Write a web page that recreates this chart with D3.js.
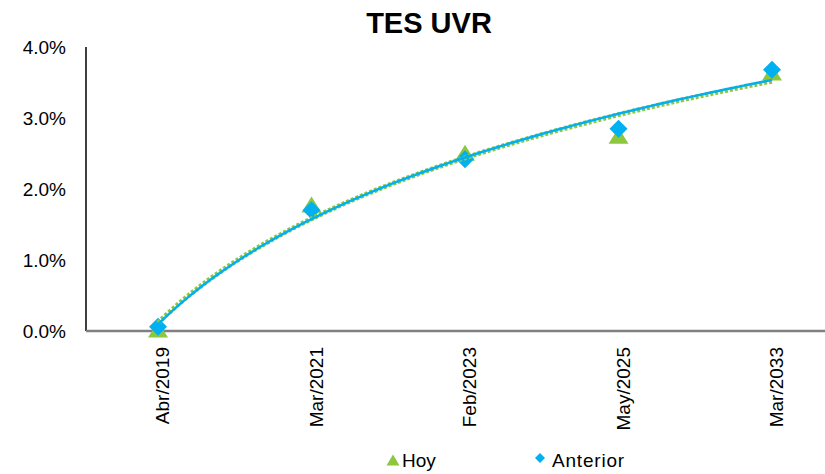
<!DOCTYPE html>
<html>
<head>
<meta charset="utf-8">
<script src="https://cdn.jsdelivr.net/npm/d3@7"></script>
<style>
  body { margin: 0; background: #fff; }
  text { font-family: "Liberation Sans", Arial, sans-serif; fill: #000; }
</style>
</head>
<body>
<script>
// data
var categories = ["Abr/2019", "Mar/2021", "Feb/2023", "May/2025", "Mar/2033"];
var hoy = [0.02, 1.78, 2.51, 2.75, 3.64];
var anterior = [0.06, 1.70, 2.42, 2.85, 3.68];
var yTicks = [0, 1, 2, 3, 4];

var width = 825, height = 474;
var green = "#8DC63F", blue = "#00B0F0";

var svg = d3.select("body").append("svg")
    .attr("width", width)
    .attr("height", height);

var x = d3.scalePoint().domain(categories).range([158, 772]);
var y = d3.scaleLinear().domain([0, 4]).range([331, 47]);

// bbox-centred marker shapes like the spreadsheet ones
function triangle(w, h) {
  return "M0," + (-h / 2) + "L" + (w / 2) + "," + (h / 2) + "L" + (-w / 2) + "," + (h / 2) + "Z";
}
function diamond(r) {
  return "M0," + (-r) + "L" + r + ",0L0," + r + "L" + (-r) + ",0Z";
}

// title
svg.append("text")
    .attr("x", 429).attr("y", 33)
    .attr("text-anchor", "middle")
    .style("font-size", "29px").style("font-weight", "bold")
    .text("TES UVR");

// y axis
svg.append("line")
    .attr("x1", 86).attr("x2", 86)
    .attr("y1", y(4)).attr("y2", y(0))
    .attr("stroke", "#000").attr("stroke-width", 1.5);

svg.selectAll(".ylab").data(yTicks).enter().append("text")
    .attr("class", "ylab")
    .attr("x", 66).attr("y", function(d) { return y(d) + 7; })
    .attr("text-anchor", "end")
    .style("font-size", "19px")
    .text(function(d) { return d.toFixed(1) + "%"; });

// x axis
svg.append("line")
    .attr("x1", 86).attr("x2", 825)
    .attr("y1", y(0)).attr("y2", y(0))
    .attr("stroke", "#808080").attr("stroke-width", 2.5);

svg.selectAll(".xlab").data(categories).enter().append("text")
    .attr("class", "xlab")
    .attr("transform", function(d) { return "translate(" + (x(d) + 11) + ",347) rotate(-90)"; })
    .attr("text-anchor", "end")
    .style("font-size", "19px")
    .text(function(d) { return d; });

// logarithmic trend line (least squares on ln of category index)
function logFit(vals) {
  var lx = vals.map(function(v, i) { return Math.log(i + 1); });
  var mx = d3.mean(lx), my = d3.mean(vals);
  var sxy = d3.sum(vals, function(v, i) { return (lx[i] - mx) * (v - my); });
  var sxx = d3.sum(lx, function(l) { return (l - mx) * (l - mx); });
  var b = sxy / sxx, a = my - b * mx;
  return function(t) { return a + b * Math.log(t); };
}

function trendPoints(vals) {
  var f = logFit(vals);
  var step = x.step();
  return d3.range(1, 5.001, 0.05).map(function(t) {
    return [x(categories[0]) + (t - 1) * step, y(f(t))];
  });
}

var line = d3.line();

// markers
svg.selectAll(".hoy").data(hoy).enter().append("path")
    .attr("class", "hoy")
    .attr("d", triangle(20, 16))
    .attr("fill", green)
    .attr("transform", function(d, i) { return "translate(" + x(categories[i]) + "," + y(d) + ")"; });

svg.selectAll(".ant").data(anterior).enter().append("path")
    .attr("class", "ant")
    .attr("d", diamond(9))
    .attr("fill", blue)
    .attr("transform", function(d, i) { return "translate(" + x(categories[i]) + "," + y(d) + ")"; });

// trend lines on top
svg.append("path")
    .attr("d", line(trendPoints(hoy)))
    .attr("fill", "none")
    .attr("stroke", green)
    .attr("stroke-width", 5)
    .attr("stroke-dasharray", "3 2");

svg.append("path")
    .attr("d", line(trendPoints(anterior)))
    .attr("fill", "none")
    .attr("stroke", blue)
    .attr("stroke-width", 2.5);

// legend
svg.append("path")
    .attr("d", triangle(13, 11))
    .attr("fill", green)
    .attr("transform", "translate(393,460)");
svg.append("text")
    .attr("x", 402).attr("y", 467)
    .style("font-size", "19px")
    .text("Hoy");

svg.append("path")
    .attr("d", diamond(5))
    .attr("fill", blue)
    .attr("transform", "translate(540,458)");
svg.append("text")
    .attr("x", 552).attr("y", 467)
    .style("font-size", "19px")
    .attr("letter-spacing", "0.8")
    .text("Anterior");
</script>
</body>
</html>
